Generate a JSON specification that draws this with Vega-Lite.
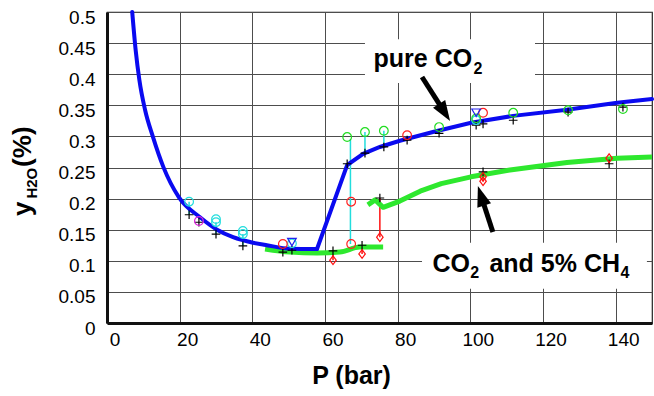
{
  "$schema": "https://vega.github.io/schema/vega-lite/v6.json",
  "width": 545,
  "height": 311,
  "autosize": {"type": "none"},
  "padding": {"left": 107, "top": 12, "right": 2, "bottom": 73},
  "background": "white",
  "config": {
    "font": "Liberation Sans",
    "view": {"stroke": "#222222", "strokeWidth": 1.2},
    "axis": {
      "grid": true, "gridColor": "#4d4d4d", "gridWidth": 1, "gridOpacity": 1,
      "domain": true, "domainColor": "#111111", "domainWidth": 3, "ticks": false,
      "labelFont": "Liberation Sans", "labelFontSize": 19, "labelColor": "black",
      "labelOverlap": false, "labelFlush": false,
      "titleFont": "Liberation Sans", "titleColor": "black"
    }
  },
  "datasets": {
    "boxes": [
      {"P": 71.0, "P2": 117.8, "Y": 0.386, "Y2": 0.456},
      {"P": 86.7, "P2": 148.6, "Y": 0.055, "Y2": 0.129}
    ],
    "co2a": [
      {"P": 6.94, "Y": 0.5}, {"P": 7.9, "Y": 0.438}, {"P": 8.9, "Y": 0.391},
      {"P": 10.5, "Y": 0.342}, {"P": 12.6, "Y": 0.3}, {"P": 15.5, "Y": 0.251},
      {"P": 19.8, "Y": 0.202}, {"P": 25.6, "Y": 0.17}, {"P": 30.3, "Y": 0.15},
      {"P": 34.7, "Y": 0.138}, {"P": 40.2, "Y": 0.129}, {"P": 44.0, "Y": 0.125},
      {"P": 50.4, "Y": 0.1195}, {"P": 57.8, "Y": 0.119}
    ],
    "co2b": [
      {"P": 57.8, "Y": 0.119}, {"P": 66.1, "Y": 0.254},
      {"P": 70.5, "Y": 0.272}, {"P": 75.1, "Y": 0.283}, {"P": 80.6, "Y": 0.293},
      {"P": 89.7, "Y": 0.307}, {"P": 100.2, "Y": 0.322}, {"P": 111.8, "Y": 0.333},
      {"P": 126.6, "Y": 0.343}, {"P": 140.4, "Y": 0.354}, {"P": 150, "Y": 0.36}
    ],
    "mixLow": [
      {"P": 43.5, "Y": 0.119}, {"P": 50.4, "Y": 0.114},
      {"P": 57.8, "Y": 0.1125}, {"P": 64.1, "Y": 0.114},
      {"P": 69.6, "Y": 0.122}, {"P": 76.0, "Y": 0.122}
    ],
    "mixHigh": [
      {"P": 71.8, "Y": 0.19}, {"P": 73.8, "Y": 0.198},
      {"P": 76.0, "Y": 0.186}, {"P": 80.6, "Y": 0.196},
      {"P": 86.2, "Y": 0.212}, {"P": 92.0, "Y": 0.224},
      {"P": 100.2, "Y": 0.235}, {"P": 110.9, "Y": 0.246},
      {"P": 126.6, "Y": 0.258}, {"P": 140.4, "Y": 0.265},
      {"P": 150, "Y": 0.267}
    ],
    "links": [
      {"k": "A", "P": 22.6, "Y": 0.174, "Y2": 0.195},
      {"k": "A", "P": 30.0, "Y": 0.143, "Y2": 0.162},
      {"k": "A", "P": 37.4, "Y": 0.124, "Y2": 0.143},
      {"k": "A", "P": 67.0, "Y": 0.127, "Y2": 0.296},
      {"k": "A", "P": 71.0, "Y": 0.273, "Y2": 0.307},
      {"k": "A", "P": 76.2, "Y": 0.283, "Y2": 0.309},
      {"k": "F", "P": 62.2, "Y": 0.101, "Y2": 0.116},
      {"k": "F", "P": 70.2, "Y": 0.111, "Y2": 0.125},
      {"k": "F", "P": 75.1, "Y": 0.138, "Y2": 0.201},
      {"k": "F", "P": 103.5, "Y": 0.228, "Y2": 0.243},
      {"k": "F", "P": 138.2, "Y": 0.256, "Y2": 0.265}
    ],
    "points": [
      {"k": "calc", "P": 22.6, "Y": 0.174}, {"k": "calc", "P": 25.3, "Y": 0.162},
      {"k": "calc", "P": 30.0, "Y": 0.143}, {"k": "calc", "P": 37.4, "Y": 0.124},
      {"k": "calc", "P": 48.4, "Y": 0.114}, {"k": "calc", "P": 50.9, "Y": 0.117},
      {"k": "calc", "P": 62.2, "Y": 0.116}, {"k": "calc", "P": 66.1, "Y": 0.256},
      {"k": "calc", "P": 70.2, "Y": 0.125}, {"k": "calc", "P": 75.1, "Y": 0.201},
      {"k": "calc", "P": 71.0, "Y": 0.273}, {"k": "calc", "P": 76.2, "Y": 0.283},
      {"k": "calc", "P": 82.6, "Y": 0.294}, {"k": "calc", "P": 91.4, "Y": 0.305},
      {"k": "calc", "P": 101.6, "Y": 0.318}, {"k": "calc", "P": 103.5, "Y": 0.32},
      {"k": "calc", "P": 111.8, "Y": 0.326}, {"k": "calc", "P": 126.9, "Y": 0.339},
      {"k": "calc", "P": 142.0, "Y": 0.347}, {"k": "calc", "P": 103.5, "Y": 0.243},
      {"k": "calc", "P": 138.2, "Y": 0.256},
      {"k": "A", "P": 22.6, "Y": 0.195}, {"k": "A", "P": 30.0, "Y": 0.167},
      {"k": "A", "P": 30.0, "Y": 0.162}, {"k": "A", "P": 37.4, "Y": 0.148},
      {"k": "A", "P": 37.4, "Y": 0.143}, {"k": "A", "P": 50.9, "Y": 0.128},
      {"k": "A", "P": 101.6, "Y": 0.326},
      {"k": "B", "P": 25.3, "Y": 0.164},
      {"k": "C", "P": 48.4, "Y": 0.127}, {"k": "C", "P": 67.2, "Y": 0.195},
      {"k": "C", "P": 67.2, "Y": 0.127}, {"k": "C", "P": 82.6, "Y": 0.302},
      {"k": "C", "P": 103.5, "Y": 0.338},
      {"k": "D", "P": 66.1, "Y": 0.299}, {"k": "D", "P": 71.0, "Y": 0.307},
      {"k": "D", "P": 76.2, "Y": 0.309}, {"k": "D", "P": 91.4, "Y": 0.315},
      {"k": "D", "P": 101.6, "Y": 0.329}, {"k": "D", "P": 111.8, "Y": 0.338},
      {"k": "D", "P": 126.9, "Y": 0.342}, {"k": "D", "P": 142.0, "Y": 0.344},
      {"k": "E", "P": 101.6, "Y": 0.338}, {"k": "E", "P": 50.9, "Y": 0.13},
      {"k": "F", "P": 62.2, "Y": 0.101}, {"k": "F", "P": 70.2, "Y": 0.111},
      {"k": "F", "P": 75.1, "Y": 0.138}, {"k": "F", "P": 103.5, "Y": 0.235},
      {"k": "F", "P": 103.5, "Y": 0.228}, {"k": "F", "P": 138.2, "Y": 0.265}
    ],
    "shafts": [
      {"P": 86.7, "Y": 0.3955, "P2": 92.65, "Y2": 0.341},
      {"P": 106.2, "Y": 0.1463, "P2": 103.1, "Y2": 0.2019}
    ],
    "mainText": [
      {"t": "pure CO", "P": 100.5, "Y": 0.4116},
      {"t": "CO", "P": 99.9, "Y": 0.082},
      {"t": "and 5% CH", "P": 141.2, "Y": 0.082}
    ],
    "subText": [
      {"t": "2", "P": 100.9, "Y": 0.400},
      {"t": "2", "P": 100.0, "Y": 0.072},
      {"t": "4", "P": 141.3, "Y": 0.072}
    ],
    "yTitleBig": [
      {"t": "y", "P": -20.9, "Y": 0.172},
      {"t": "(%)", "P": -20.9, "Y": 0.251}
    ],
    "yTitleSub": [
      {"t": "H2O", "P": -19.3, "Y": 0.2}
    ]
  },
  "encoding": {
    "x": {
      "field": "P", "type": "quantitative",
      "scale": {"domain": [0, 150], "nice": false, "zero": false},
      "axis": {
        "grid": true, "domain": true,
        "values": [0, 20, 40, 60, 80, 100, 120, 140],
        "labelOffset": 7.5, "labelPadding": 7,
        "title": "P (bar)", "titleFontSize": 25, "titleFontWeight": "bold",
        "titleX": 244, "titleY": 60, "titleBaseline": "alphabetic", "titleAnchor": "middle"
      }
    },
    "y": {
      "field": "Y", "type": "quantitative",
      "scale": {"domain": [0, 0.5], "nice": false},
      "axis": {
        "grid": true, "domain": true,
        "values": [0, 0.05, 0.1, 0.15, 0.2, 0.25, 0.3, 0.35, 0.4, 0.45, 0.5],
        "format": "~g", "labelPadding": 12, "labelOffset": 5, "title": null
      }
    }
  },
  "layer": [
    {
      "data": {"name": "boxes"},
      "mark": {"type": "rect", "fill": "white", "stroke": null},
      "encoding": {"x2": {"field": "P2"}, "y2": {"field": "Y2"}}
    },
    {
      "data": {"name": "links"},
      "mark": {"type": "rule", "strokeWidth": 1.5},
      "encoding": {
        "y2": {"field": "Y2"},
        "color": {"field": "k", "type": "nominal", "legend": null,
          "scale": {"domain": ["calc", "A", "B", "C", "D", "E", "F"],
                    "range": ["black", "#22dddd", "#dd22dd", "#ff2020", "#22dd22", "#2222ee", "#ff1010"]}}
      }
    },
    {
      "data": {"name": "mixLow"},
      "mark": {"type": "line", "color": "#2ee82e", "strokeWidth": 5, "interpolate": "monotone"},
      "encoding": {}
    },
    {
      "data": {"name": "mixHigh"},
      "mark": {"type": "line", "color": "#2ee82e", "strokeWidth": 5, "interpolate": "linear", "strokeJoin": "round"},
      "encoding": {}
    },
    {
      "data": {"name": "co2a"},
      "mark": {"type": "line", "color": "#0a0af0", "strokeWidth": 4, "interpolate": "monotone", "strokeCap": "round"},
      "encoding": {}
    },
    {
      "data": {"name": "co2b"},
      "mark": {"type": "line", "color": "#0a0af0", "strokeWidth": 4, "interpolate": "linear", "strokeCap": "round"},
      "encoding": {}
    },
    {
      "data": {"name": "points"},
      "mark": {"type": "point", "filled": false, "size": 75, "strokeWidth": 1.2, "opacity": 1},
      "encoding": {
        "color": {"field": "k", "type": "nominal", "legend": null,
          "scale": {"domain": ["calc", "A", "B", "C", "D", "E", "F"],
                    "range": ["black", "#22dddd", "#dd22dd", "#ff2020", "#22dd22", "#2222ee", "#ff1010"]}},
        "shape": {"field": "k", "type": "nominal", "legend": null,
          "scale": {"domain": ["calc", "A", "B", "C", "D", "E", "F"],
                    "range": ["M-1,0L1,0M0,-1L0,1", "circle", "circle", "circle", "circle", "triangle-down", "M0,-1L0.75,0L0,1L-0.75,0Z"]}}
      }
    },
    {
      "data": {"name": "shafts"},
      "mark": {"type": "rule", "color": "black", "strokeWidth": 5},
      "encoding": {"x2": {"field": "P2"}, "y2": {"field": "Y2"}}
    },
    {
      "data": {"values": [{"P": 92.65, "Y": 0.341}]},
      "mark": {"type": "point", "filled": true, "color": "black", "opacity": 1, "size": 576, "angle": 147.5, "shape": "M0,-1L0.6,0.7L-0.6,0.7Z"},
      "encoding": {}
    },
    {
      "data": {"values": [{"P": 103.1, "Y": 0.2019}]},
      "mark": {"type": "point", "filled": true, "color": "black", "opacity": 1, "size": 576, "angle": 342, "shape": "M0,-1L0.6,0.7L-0.6,0.7Z"},
      "encoding": {}
    },
    {
      "data": {"name": "mainText"},
      "mark": {"type": "text", "align": "right", "baseline": "alphabetic", "fontSize": 25, "fontWeight": "bold", "color": "black"},
      "encoding": {"text": {"field": "t"}}
    },
    {
      "data": {"name": "subText"},
      "mark": {"type": "text", "align": "left", "baseline": "alphabetic", "fontSize": 16, "fontWeight": "bold", "color": "black"},
      "encoding": {"text": {"field": "t"}}
    },
    {
      "data": {"name": "yTitleBig"},
      "mark": {"type": "text", "align": "left", "baseline": "alphabetic", "angle": 270, "fontSize": 26, "fontWeight": "bold", "color": "black"},
      "encoding": {"text": {"field": "t"}}
    },
    {
      "data": {"name": "yTitleSub"},
      "mark": {"type": "text", "align": "left", "baseline": "alphabetic", "angle": 270, "fontSize": 15, "fontWeight": "bold", "color": "black"},
      "encoding": {"text": {"field": "t"}}
    }
  ]
}
